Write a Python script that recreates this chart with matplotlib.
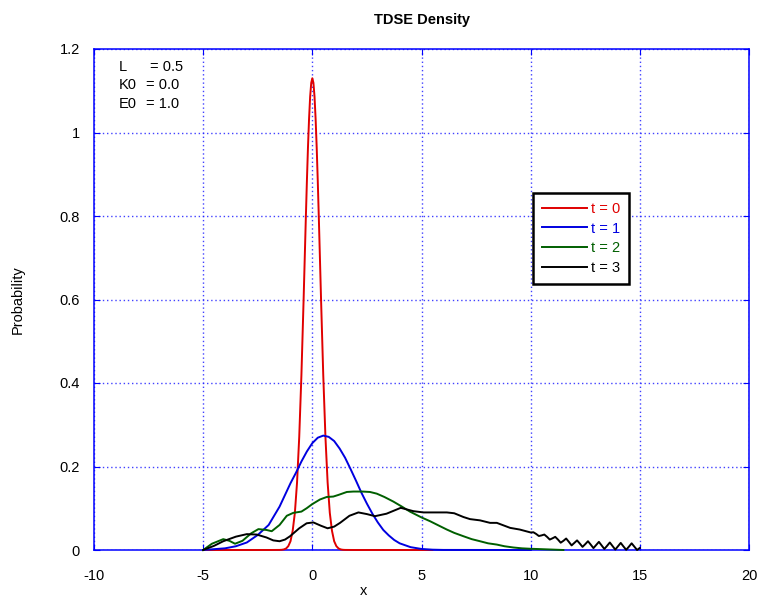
#!/usr/bin/env python3
import matplotlib
matplotlib.use("Agg")
import matplotlib.pyplot as plt

plt.rcParams['font.family'] = ['Liberation Sans', 'DejaVu Sans']

# t = 0
x0 = [-5.0, -2.0, -1.5, -1.4, -1.3, -1.2, -1.1, -1.0, -0.9, -0.8, -0.7, -0.6, -0.5, -0.4, -0.35, -0.3, -0.25, -0.2,
      -0.15, -0.1, -0.05, 0.0, 0.05, 0.1, 0.15, 0.2, 0.25, 0.3, 0.35, 0.4, 0.5, 0.6, 0.7, 0.8, 0.9, 1.0,
      1.1, 1.2, 1.3, 1.4, 1.5, 2.0, 5.5]
p0 = [0.0, 0.0, 0.0002, 0.0005, 0.0014, 0.0037, 0.0093, 0.021, 0.046, 0.089, 0.162, 0.271, 0.419, 0.599, 0.695, 0.791, 0.882, 0.964,
      1.033, 1.086, 1.119, 1.130, 1.119, 1.086, 1.033, 0.964, 0.882, 0.791, 0.695, 0.599, 0.419, 0.271, 0.162, 0.089, 0.046, 0.021,
      0.0093, 0.0037, 0.0014, 0.0005, 0.0002, 0.0, 0.0]

# t = 1
x1 = [-5.0, -4.5, -4.0, -3.5, -3.0, -2.5, -2.0, -1.5, -1.0, -0.75, -0.5, -0.25, 0.0, 0.25, 0.5, 0.75,
      1.0, 1.25, 1.5, 1.75, 2.0, 2.25, 2.5, 2.75, 3.0, 3.25, 3.5, 3.75, 4.0, 4.5, 5.0, 5.5, 6.0, 10.0]
p1 = [0.0, 0.002, 0.004, 0.009, 0.018, 0.036, 0.060, 0.104, 0.160, 0.185, 0.212, 0.236, 0.256, 0.269, 0.274, 0.271,
      0.261, 0.243, 0.221, 0.194, 0.166, 0.137, 0.111, 0.087, 0.066, 0.048, 0.035, 0.024, 0.016, 0.0068, 0.0025, 0.0008, 0.0002, 0.0]

# t = 2
x2 = [-5.0, -4.6, -4.08, -3.8, -3.54, -3.2, -2.8, -2.47, -2.1, -1.86, -1.5, -1.17, -0.87, -0.5, -0.26, 0.0,
      0.35, 0.66, 0.96, 1.2, 1.58, 1.88, 2.3, 2.64, 2.95, 3.3, 3.71, 4.1, 4.47, 5.0, 5.39, 5.85, 6.16, 6.5,
      6.92, 7.3, 7.68, 8.05, 8.45, 8.8, 9.21, 9.6, 9.97, 10.5, 11.0, 11.5]
p2 = [0.0, 0.015, 0.026, 0.022, 0.015, 0.022, 0.040, 0.050, 0.048, 0.045, 0.060, 0.082, 0.089, 0.092, 0.100, 0.110,
      0.121, 0.127, 0.128, 0.132, 0.139, 0.140, 0.140, 0.139, 0.135, 0.127, 0.116, 0.104, 0.092, 0.078, 0.069, 0.057, 0.049, 0.041,
      0.033, 0.026, 0.021, 0.016, 0.013, 0.009, 0.006, 0.004, 0.003, 0.002, 0.001, 0.0]

# t = 3
x3 = [-5.0, -4.5, -4.08, -3.5, -3.0, -2.55, -2.1, -1.79, -1.5, -1.25, -1.02, -0.6, -0.26, 0.05, 0.4, 0.7,
      1.0, 1.27, 1.7, 2.11, 2.5, 2.87, 3.4, 4.05, 4.63, 5.09, 5.5, 6.16, 6.5, 6.92, 7.22, 7.68, 8.14, 8.45,
      9.06, 9.5,
      10.0, 10.125, 10.25, 10.375, 10.5, 10.625, 10.75, 10.875, 11.0, 11.125, 11.25, 11.375, 11.5, 11.625,
      11.75, 11.875, 12.0, 12.125, 12.25, 12.375, 12.5, 12.625, 12.75, 12.875, 13.0, 13.125, 13.25, 13.375,
      13.5, 13.625, 13.75, 13.875, 14.0, 14.125, 14.25, 14.375, 14.5, 14.625, 14.75, 14.875, 15.0]
p3 = [0.0, 0.010, 0.021, 0.032, 0.038, 0.037, 0.030, 0.023, 0.021, 0.025, 0.033, 0.052, 0.064, 0.066, 0.058, 0.052,
      0.056, 0.065, 0.082, 0.090, 0.086, 0.081, 0.087, 0.101, 0.093, 0.090, 0.090, 0.090, 0.088, 0.079, 0.074, 0.071, 0.065, 0.065,
      0.053, 0.049,
      0.042, 0.0425, 0.0385, 0.0335, 0.035, 0.037, 0.0315, 0.025, 0.028, 0.0315, 0.025, 0.0175, 0.022, 0.0275,
      0.0195, 0.011, 0.017, 0.023, 0.0155, 0.0075, 0.014, 0.021, 0.013, 0.0045, 0.012, 0.0195, 0.011, 0.0025,
      0.010, 0.018, 0.0095, 0.001, 0.009, 0.017, 0.0085, 0.0005, 0.008, 0.016, 0.008, 0.0, 0.005]

series = [(x0, p0, 't = 0', '#e00000'),
          (x1, p1, 't = 1', '#0000e0'),
          (x2, p2, 't = 2', '#005f00'),
          (x3, p3, 't = 3', '#000000')]

xticks = [-10, -5, 0, 5, 10, 15, 20]
yticks = [0, 0.2, 0.4, 0.6, 0.8, 1, 1.2]
params = [('L', '= 0.5'), ('K0', '= 0.0'), ('E0', '= 1.0')]

fs = 10.5

fig = plt.figure(figsize=(7.61, 6.0), dpi=100)
ax = fig.add_axes([94 / 761, 50 / 600, 655 / 761, 501 / 600])

for xs, ys, lab, col in series:
    ax.plot(xs, ys, color=col, lw=1.4, label=lab, zorder=3, clip_on=False)

ax.set_xlim(-10, 20)
ax.set_ylim(0, 1.2)
ax.set_xticks(xticks)
ax.set_xticklabels([f'{v:g}' for v in xticks])
ax.set_yticks(yticks)
ax.set_yticklabels([f'{v:g}' for v in yticks])
ax.tick_params(direction='in', length=4, color='blue', labelsize=fs,
               top=True, right=True)
ax.tick_params(axis='x', pad=14)
ax.tick_params(axis='y', pad=10)
ax.grid(True, color='#2020ff', linestyle=(0, (1, 2)), lw=1.0, alpha=0.85)
for sp in ax.spines.values():
    sp.set_color('blue')
    sp.set_linewidth(1.1)

ax.set_title('TDSE Density', fontsize=10.5, fontweight='bold', pad=18)
fig.text(364 / 761, 1 - 591 / 600, 'x', fontsize=fs, ha='center', va='center')
fig.text(18 / 761, 0.5, 'Probability', fontsize=fs, rotation=90, ha='center', va='center')

# parameter block
for i, (name, val) in enumerate(params):
    yb = 1 - (71 + 18.3 * i - 49) / 501
    ax.text(0.038, yb, name, transform=ax.transAxes, fontsize=fs, va='baseline')
    xv = 0.086 if i == 0 else 0.080
    ax.text(xv, yb, val, transform=ax.transAxes, fontsize=fs, va='baseline')

leg = ax.legend(loc='upper left', bbox_to_anchor=((533 - 94) / 655, (550 - 193) / 501),
                fontsize=fs, handlelength=3.1, handletextpad=0.3, labelspacing=0.4,
                fancybox=False, framealpha=1, borderpad=0.6, borderaxespad=0)
leg.get_frame().set_edgecolor('black')
leg.get_frame().set_linewidth(1.8)
for txt, (_, _, _, col) in zip(leg.get_texts(), series):
    txt.set_color(col)

fig.savefig('out.png', dpi=100)
